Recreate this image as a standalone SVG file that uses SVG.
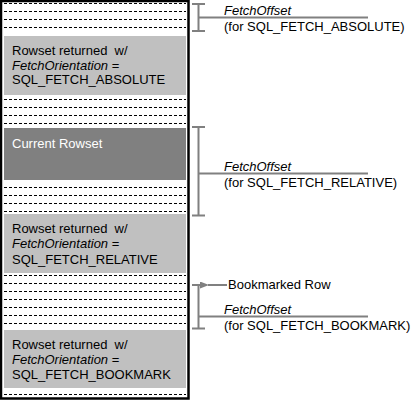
<svg xmlns="http://www.w3.org/2000/svg" width="414" height="400" viewBox="0 0 414 400">
<style>
  text { font-family: "Liberation Sans", Arial, sans-serif; font-size: 13px; fill: #000; }
  .it { font-style: italic; }
  .wt { fill: #fff; }
  .row { stroke: #000; stroke-width: 1; stroke-dasharray: 3 2; shape-rendering: crispEdges; }
  .lite { fill: #c0c0c0; }
  .dark { fill: #808080; }
  .br { stroke: #808080; stroke-width: 2; fill: none; }
</style>
<defs>
  <marker id="ah" markerWidth="9" markerHeight="7" refX="1" refY="3.5" orient="auto" markerUnits="userSpaceOnUse">
    <path d="M9,0 L0,3.5 L9,7 Z" fill="#808080"/>
  </marker>
</defs>
<rect width="414" height="400" fill="#fff"/>

<g id="rowset-list">
  <rect x="1" y="1" width="187.5" height="397.5" fill="#fff" stroke="#000" stroke-width="2.5"/>
  <g id="rows">
    <line class="row" x1="4" x2="186" y1="3.5" y2="3.5"/>
    <line class="row" x1="4" x2="186" y1="11.5" y2="11.5"/>
    <line class="row" x1="4" x2="186" y1="19.5" y2="19.5"/>
    <line class="row" x1="4" x2="186" y1="27.5" y2="27.5"/>
    <line class="row" x1="4" x2="186" y1="99.5" y2="99.5"/>
    <line class="row" x1="4" x2="186" y1="107.5" y2="107.5"/>
    <line class="row" x1="4" x2="186" y1="115.5" y2="115.5"/>
    <line class="row" x1="4" x2="186" y1="123.5" y2="123.5"/>
    <line class="row" x1="4" x2="186" y1="187.5" y2="187.5"/>
    <line class="row" x1="4" x2="186" y1="195.5" y2="195.5"/>
    <line class="row" x1="4" x2="186" y1="203.5" y2="203.5"/>
    <line class="row" x1="4" x2="186" y1="211.5" y2="211.5"/>
    <line class="row" x1="4" x2="186" y1="275.5" y2="275.5"/>
    <line class="row" x1="4" x2="186" y1="283.5" y2="283.5"/>
    <line class="row" x1="4" x2="186" y1="291.5" y2="291.5"/>
    <line class="row" x1="4" x2="186" y1="299.5" y2="299.5"/>
    <line class="row" x1="4" x2="186" y1="307.5" y2="307.5"/>
    <line class="row" x1="4" x2="186" y1="315.5" y2="315.5"/>
    <line class="row" x1="4" x2="186" y1="323.5" y2="323.5"/>
    <line class="row" x1="4" x2="186" y1="394.5" y2="394.5"/>
  </g>
</g>

<g id="rowset-absolute">
  <rect class="lite" x="4" y="36" width="182" height="59"/>
  <text x="12" y="55" xml:space="preserve">Rowset returned  w/</text>
  <text x="12" y="69.5"><tspan class="it">FetchOrientation</tspan> =</text>
  <text x="12" y="84">SQL_FETCH_ABSOLUTE</text>
</g>

<g id="current-rowset">
  <rect class="dark" x="4" y="128" width="182" height="52"/>
  <text class="wt" x="12" y="148">Current Rowset</text>
</g>

<g id="rowset-relative">
  <rect class="lite" x="4" y="214" width="182" height="59"/>
  <text x="12" y="233" xml:space="preserve">Rowset returned  w/</text>
  <text x="12" y="248"><tspan class="it">FetchOrientation</tspan> =</text>
  <text x="12" y="264">SQL_FETCH_RELATIVE</text>
</g>

<g id="rowset-bookmark">
  <rect class="lite" x="4" y="330" width="182" height="58"/>
  <text x="12" y="349" xml:space="preserve">Rowset returned  w/</text>
  <text x="12" y="364"><tspan class="it">FetchOrientation</tspan> =</text>
  <text x="12" y="379">SQL_FETCH_BOOKMARK</text>
</g>

<g id="label-absolute">
  <text class="it" x="224" y="15">FetchOffset</text>
  <text x="224" y="31">(for SQL_FETCH_ABSOLUTE)</text>
</g>
<g id="label-relative">
  <text class="it" x="224" y="171">FetchOffset</text>
  <text x="224" y="187">(for SQL_FETCH_RELATIVE)</text>
</g>
<g id="label-bookmark">
  <text x="228" y="289">Bookmarked Row</text>
  <text class="it" x="224" y="314">FetchOffset</text>
  <text x="224" y="330">(for SQL_FETCH_BOOKMARK)</text>
</g>

<g id="connectors">
  <path class="br" d="M192,4 H205 M198.5,4 V31 M192,31 H205 M198.5,17.5 H368"/>
  <path class="br" d="M192,127 H205 M198.5,127 V215.5 M192,215.5 H205 M198.5,173.5 H368"/>
  <path class="br" d="M192,285 H205 M198.5,285 V328.5 M192,328.5 H205 M198.5,316.5 H368"/>
  <line class="br" x1="227" y1="285" x2="208" y2="285" marker-end="url(#ah)"/>
</g>
</svg>
